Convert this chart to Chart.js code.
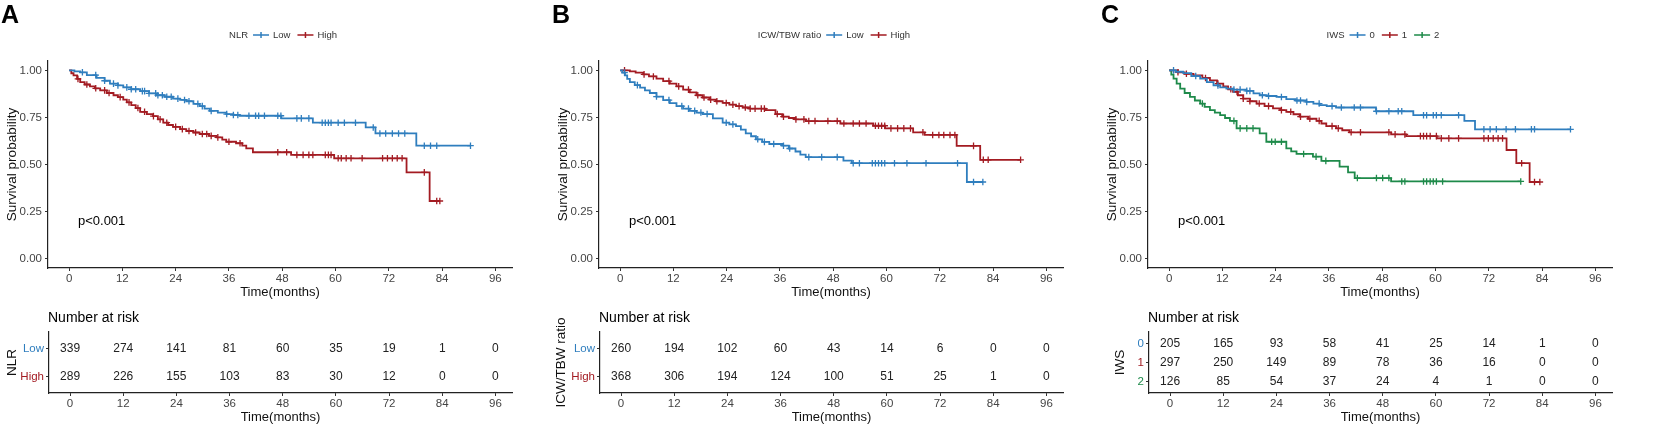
<!DOCTYPE html>
<html lang="en">
<head>
<meta charset="UTF-8">
<title>Survival by NLR, ICW/TBW ratio and IWS</title>
<script src="https://cdn.jsdelivr.net/npm/chart.js"></script>
<style>
  body { margin: 0; background: #fff; }
  .panel { position: absolute; top: 0; height: 427px; }
  .panel canvas { position: absolute; left: 0; }
</style>
</head>
<body>
<div class="panel" style="left:0px;width:551px">
  <canvas id="kmA" width="551" height="300" style="top:0px"></canvas>
  <canvas id="riskA" width="551" height="127" style="top:300px"></canvas>
</div>
<div class="panel" style="left:551px;width:551px">
  <canvas id="kmB" width="551" height="300" style="top:0px"></canvas>
  <canvas id="riskB" width="551" height="127" style="top:300px"></canvas>
</div>
<div class="panel" style="left:1100px;width:553px">
  <canvas id="kmC" width="553" height="300" style="top:0px"></canvas>
  <canvas id="riskC" width="553" height="127" style="top:300px"></canvas>
</div>
<script>
// shared axes
const timeTicks = [0, 12, 24, 36, 48, 60, 72, 84, 96];
const survTicks = [0, 0.25, 0.5, 0.75, 1];
const pText = 'p<0.001';

// ---- A: NLR ----
const nlrLowTime = [0,1.2,2.5,4,6.2,8,9.2,11,12.2,14,16,18,19.7,21.5,23.4,25,26.4,28,29.4,30.5,31.7,33.5,35.4,37,38.4,47.8,54.9,66.8,69,78.2,90.4];
const nlrLowSurv = [1,.995,.99,.975,.96,.945,.93,.92,.91,.90,.89,.878,.868,.86,.85,.843,.836,.822,.81,.797,.785,.776,.768,.763,.759,.745,.722,.697,.665,.60,.60];
const nlrLowCens = [3,6,8,10,11,13,14,15,16.5,17,18,19.5,20,21,22,23,24.5,26,27,29,30,32,35.5,37,38,40.5,42,42.7,44,47,47.7,51.3,52.3,54,57,57.7,58.4,59,60.6,62,64.5,68.5,70,71.3,72.8,74.2,75.6,80,81.4,82.8,90.4];
const nlrHighTime = [0,0.5,1,1.8,2.5,3.5,4.7,5.8,7,8.5,10,11,12.2,13,14,15,16,17.5,18.9,20,21.2,22.3,23.4,25,26.4,28,29.4,31.5,33.2,34.5,35.4,37.6,39,39.9,41.4,50,59.7,76,81.2,83.5];
const nlrHighSurv = [1,.985,.974,.955,.938,.925,.915,.905,.894,.88,.868,.858,.845,.83,.815,.80,.78,.768,.757,.74,.722,.71,.70,.688,.678,.67,.662,.652,.644,.632,.621,.613,.60,.586,.565,.551,.533,.458,.306,.306];
const nlrHighCens = [2,4,6,8,9,11.5,13.5,15.5,17,19,20.5,22,24,25.5,27,28.5,30,31,32,33.5,36,38.5,47,49,51.3,52.7,54,54.9,57.7,58.4,59,60.6,61.3,62.4,63.5,66,70.6,71.7,72.8,73.9,75,80,82.8,83.5];
const nlrLowRisk = [339, 274, 141, 81, 60, 35, 19, 1, 0];
const nlrHighRisk = [289, 226, 155, 103, 83, 30, 12, 0, 0];

// ---- B: ICW/TBW ratio ----
const icwLowTime = [0,0.5,1.1,1.6,2.2,3.3,4.5,5.6,6.7,8.2,9.7,11.2,12.7,14.2,15.7,17.2,18.6,20.9,23.1,24.6,26.1,27.2,28.3,29.5,30.6,32,33.6,36.5,38,39.5,40.6,41.8,50.3,52.2,78.1,81.7];
const icwLowSurv = [1,.988,.974,.955,.938,.922,.908,.894,.88,.861,.842,.826,.81,.797,.785,.776,.768,.745,.722,.713,.704,.685,.665,.65,.634,.62,.609,.60,.585,.569,.553,.539,.521,.507,.407,.407];
const icwLowCens = [1,3.9,8.2,11,13.9,15.4,16.8,18.2,19.6,23.9,25.4,31,32.5,34.6,36.8,38.2,42.5,45.4,48.9,52.5,53.9,56.8,57.5,58.2,58.9,59.6,61.8,64.6,68.9,76,79.6,81.7];
const icwHighTime = [0,2.2,3.5,5.2,6.5,8.2,9.7,11.2,12.7,14.2,15.7,17.2,18.6,20.1,21.6,23.1,24.6,26.1,27.6,29.1,32.8,35,36.5,38,39.5,41.8,49.6,57,59.7,66,68.6,75.8,81.1,90.2];
const icwHighSurv = [1,.995,.988,.979,.968,.956,.943,.93,.915,.898,.883,.868,.856,.845,.836,.827,.818,.81,.803,.797,.789,.768,.754,.747,.74,.731,.718,.706,.692,.671,.657,.599,.525,.525];
const icwHighCens = [1,5.4,7.5,11,13.2,15.4,17.5,18.9,20.4,21.8,23.9,25.4,26.8,28.2,29.3,30.4,31.8,32.5,35.4,36.8,39.6,41.4,42.5,43.9,46.8,48.9,50.4,52.5,53.9,55.4,57.5,58.2,58.9,59.6,61,62.5,63.9,65.4,68.2,70.4,71.8,72.9,74.3,75.4,79.6,81.8,82.9,90.2];
const icwLowRisk = [260, 194, 102, 60, 43, 14, 6, 0, 0];
const icwHighRisk = [368, 306, 194, 124, 100, 51, 25, 1, 0];

// ---- C: IWS ----
const iws0Time = [0,1.5,3.2,5,7,8.5,10,11.5,12.9,14.5,17.4,19,20.4,22,24.2,26.4,28.5,30.9,32.5,33.9,35.5,37.6,46.6,55,66.5,68.9,90.4];
const iws0Surv = [1,.993,.986,.97,.956,.938,.92,.91,.903,.898,.891,.878,.868,.864,.859,.847,.84,.833,.824,.815,.81,.803,.783,.762,.732,.687,.687];
const iws0Cens = [1,6,11,14.6,16,17.5,18.2,21,22.4,25.3,28.8,29.6,31,33.8,36.7,38.8,41.7,43.1,46.7,49.5,51.6,52.4,57.3,58,59.5,60.2,61.3,65.2,70.9,72.3,73.7,75.9,78,81.6,82.3,90.4];
const iws1Time = [0,2,3.5,5.5,7.5,9.2,10.8,12.2,13.3,14.4,15.5,16.7,18.2,19.7,21.5,23.4,25,26.4,28,29.4,31.3,33.2,34.3,35.4,37.6,39,40.6,50,53.4,60.3,76,78.2,81.2,83.5];
const iws1Surv = [1,.99,.982,.974,.96,.947,.93,.915,.90,.886,.868,.85,.836,.824,.81,.798,.789,.78,.767,.754,.743,.732,.718,.704,.692,.682,.671,.66,.651,.639,.577,.507,.407,.407];
const iws1Cens = [2,3.9,8.2,11,13.9,15.3,16.7,18.2,20.3,22.4,25.3,27.4,29.6,31.7,33.8,36.7,38.1,41,43.1,49.5,50.9,53.1,56.6,57.3,58,58.8,60.2,61.3,63,65.2,70.9,71.9,73,74.1,75.1,79.4,82.3,83.5];
const iws2Time = [0,0.5,1,1.7,2.5,3.5,4.7,5.8,7,8,9.2,10.3,11.5,12.6,13.7,15.2,20.4,21.9,26.4,27.5,28.7,32.4,34.3,38.4,40.3,41.8,50,79.2];
const iws2Surv = [1,.978,.956,.93,.903,.88,.859,.84,.824,.806,.789,.776,.762,.747,.732,.692,.665,.621,.586,.57,.556,.542,.519,.489,.458,.428,.41,.41];
const iws2Cens = [7.5,14.6,16,17.5,18.9,23.1,23.9,25.3,30.3,33.1,35.3,42.4,46.7,48.1,49.5,52.4,53.1,57.3,58,58.8,59.5,60.2,61.6,79.2];
const iws0Risk = [205, 165, 93, 58, 41, 25, 14, 1, 0];
const iws1Risk = [297, 250, 149, 89, 78, 36, 16, 0, 0];
const iws2Risk = [126, 85, 54, 37, 24, 4, 1, 0, 0];

// ---- styling ----
const FONT = "'Liberation Sans', Arial, sans-serif";
Chart.defaults.font.family = FONT;
const BLUE = '#2F7EBE', RED = '#A31B22', GREEN = '#1E8A4A';
const AREA_RIGHT = 512;

// survival value of a step curve at time t
function stepAt(times, surv, t) {
  let s = surv[0];
  for (let i = 0; i < times.length; i++) {
    if (times[i] <= t) s = surv[i]; else break;
  }
  return s;
}

const tickGrid = { display: true, drawOnChartArea: false, drawTicks: true, tickLength: 3, color: '#333', lineWidth: 1 };
const axisBorder = { display: true, color: '#222', width: 1.2 };

function timeAxis(height, titleBottom) {
  return {
    type: 'linear', min: -4.75, max: 99.75,
    afterBuildTicks: s => { s.ticks = timeTicks.map(v => ({ value: v })); },
    afterFit: s => { s.height = height; },
    grid: tickGrid, border: axisBorder,
    ticks: { font: { size: 11.5 }, color: '#444', padding: 1, maxRotation: 0, autoSkip: false },
    title: { display: true, text: 'Time(months)', font: { size: 13 }, color: '#111', padding: { top: 0, bottom: titleBottom } }
  };
}

const kmDecor = {
  id: 'kmDecor',
  afterDraw(chart, args, o) {
    const { ctx, chartArea, scales } = chart;
    ctx.save();
    // panel letter
    ctx.fillStyle = '#000';
    ctx.font = 'bold 25px ' + FONT;
    ctx.textAlign = 'left';
    ctx.textBaseline = 'alphabetic';
    ctx.fillText(o.letter, 1, 23);
    // p value
    ctx.font = '13px ' + FONT;
    ctx.textBaseline = 'middle';
    ctx.fillText(pText, scales.x.getPixelForValue(2), scales.y.getPixelForValue(0.2));
    // legend on top
    ctx.font = '9.5px ' + FONT;
    const keyW = 16, gapT = 5, gapK = 4, gapI = 7;
    let w = ctx.measureText(o.title).width + gapT;
    o.groups.forEach((g, i) => {
      w += keyW + gapK + ctx.measureText(g.name).width + (i < o.groups.length - 1 ? gapI : 0);
    });
    let x = (chartArea.left + chartArea.right) / 2 + 3 - w / 2;
    const y = 35;
    ctx.fillStyle = '#333';
    ctx.fillText(o.title, x, y);
    x += ctx.measureText(o.title).width + gapT;
    o.groups.forEach(g => {
      ctx.strokeStyle = g.color;
      ctx.lineWidth = 1.5;
      ctx.beginPath();
      ctx.moveTo(x, y); ctx.lineTo(x + keyW, y);
      ctx.moveTo(x + keyW / 2, y - 3); ctx.lineTo(x + keyW / 2, y + 3);
      ctx.stroke();
      x += keyW + gapK;
      ctx.fillStyle = '#333';
      ctx.fillText(g.name, x, y);
      x += ctx.measureText(g.name).width + gapI;
    });
    ctx.restore();
  }
};

const riskDecor = {
  id: 'riskDecor',
  afterDatasetsDraw(chart) {
    const { ctx, chartArea } = chart;
    ctx.save();
    ctx.fillStyle = '#000';
    ctx.font = '14px ' + FONT;
    ctx.textAlign = 'left';
    ctx.textBaseline = 'middle';
    ctx.fillText('Number at risk', chartArea.left - 1, 18);
    ctx.font = '12px ' + FONT;
    ctx.textAlign = 'center';
    ctx.fillStyle = '#222';
    chart.data.datasets.forEach((ds, i) => {
      chart.getDatasetMeta(i).data.forEach((pt, j) => {
        ctx.fillText(String(ds.data[j].n), pt.x, pt.y);
      });
    });
    ctx.restore();
  }
};

function kmChart(id, width, letter, title, groups) {
  const datasets = [];
  groups.forEach(g => {
    datasets.push({
      type: 'line', label: g.name,
      data: g.times.map((t, i) => ({ x: t, y: g.surv[i] })),
      borderColor: g.color, borderWidth: 1.8, pointRadius: 0, stepped: true, fill: false
    });
    datasets.push({
      type: 'scatter', label: g.name + ' censored',
      data: g.cens.map(t => ({ x: t, y: stepAt(g.times, g.surv, t) })),
      borderColor: g.color, backgroundColor: g.color,
      pointStyle: 'cross', pointRadius: 3.3, borderWidth: 1.3
    });
  });
  new Chart(document.getElementById(id), {
    type: 'scatter',
    data: { datasets },
    options: {
      responsive: false, animation: false,
      layout: { padding: { top: 61, right: width - AREA_RIGHT, left: 0, bottom: 0 } },
      plugins: { legend: { display: false }, tooltip: { enabled: false }, kmDecor: { letter, title, groups } },
      scales: {
        x: timeAxis(32, 0),
        y: {
          type: 'linear', min: -0.05, max: 1.05,
          afterBuildTicks: s => { s.ticks = survTicks.map(v => ({ value: v })); },
          afterFit: s => { s.width = 48; },
          grid: tickGrid, border: axisBorder,
          ticks: { callback: v => Number(v).toFixed(2), font: { size: 11.5 }, color: '#444', padding: 3 },
          title: { display: true, text: 'Survival probability', font: { size: 13.5 }, color: '#111', padding: { top: 4, bottom: 0 } }
        }
      }
    },
    plugins: [kmDecor]
  });
}

function riskChart(id, width, title, titlePad, groups) {
  const datasets = groups.map((g, r) => ({
    label: g.name,
    data: timeTicks.map((t, j) => ({ x: t, y: r, n: g.risk[j] })),
    pointRadius: 0, showLine: false
  }));
  new Chart(document.getElementById(id), {
    type: 'scatter',
    data: { datasets },
    options: {
      responsive: false, animation: false,
      layout: { padding: { top: 32, right: width - AREA_RIGHT, left: 0, bottom: 0 } },
      plugins: { legend: { display: false }, tooltip: { enabled: false } },
      scales: {
        x: timeAxis(34, 2),
        y: {
          type: 'linear', reverse: true, min: -0.6, max: groups.length - 0.4,
          afterBuildTicks: s => { s.ticks = groups.map((g, i) => ({ value: i })); },
          afterFit: s => { s.width = 49; },
          grid: tickGrid, border: axisBorder,
          ticks: {
            callback: v => (groups[v] ? groups[v].name : ''),
            color: c => (groups[c.index] ? groups[c.index].color : '#333'),
            font: { size: 11.5 }, padding: 2
          },
          title: { display: true, text: title, font: { size: 13.5 }, color: '#111', padding: { top: titlePad, bottom: 0 } }
        }
      }
    },
    plugins: [riskDecor]
  });
}

// A
kmChart('kmA', 551, 'A', 'NLR', [
  { name: 'Low', color: BLUE, times: nlrLowTime, surv: nlrLowSurv, cens: nlrLowCens },
  { name: 'High', color: RED, times: nlrHighTime, surv: nlrHighSurv, cens: nlrHighCens }
]);
riskChart('riskA', 551, 'NLR', 4, [
  { name: 'Low', color: BLUE, risk: nlrLowRisk },
  { name: 'High', color: RED, risk: nlrHighRisk }
]);

// B
kmChart('kmB', 551, 'B', 'ICW/TBW ratio', [
  { name: 'Low', color: BLUE, times: icwLowTime, surv: icwLowSurv, cens: icwLowCens },
  { name: 'High', color: RED, times: icwHighTime, surv: icwHighSurv, cens: icwHighCens }
]);
riskChart('riskB', 551, 'ICW/TBW ratio', 2, [
  { name: 'Low', color: BLUE, risk: icwLowRisk },
  { name: 'High', color: RED, risk: icwHighRisk }
]);

// C
kmChart('kmC', 553, 'C', 'IWS', [
  { name: '0', color: BLUE, times: iws0Time, surv: iws0Surv, cens: iws0Cens },
  { name: '1', color: RED, times: iws1Time, surv: iws1Surv, cens: iws1Cens },
  { name: '2', color: GREEN, times: iws2Time, surv: iws2Surv, cens: iws2Cens }
]);
riskChart('riskC', 553, 'IWS', 12, [
  { name: '0', color: BLUE, risk: iws0Risk },
  { name: '1', color: RED, risk: iws1Risk },
  { name: '2', color: GREEN, risk: iws2Risk }
]);
</script>
</body>
</html>
